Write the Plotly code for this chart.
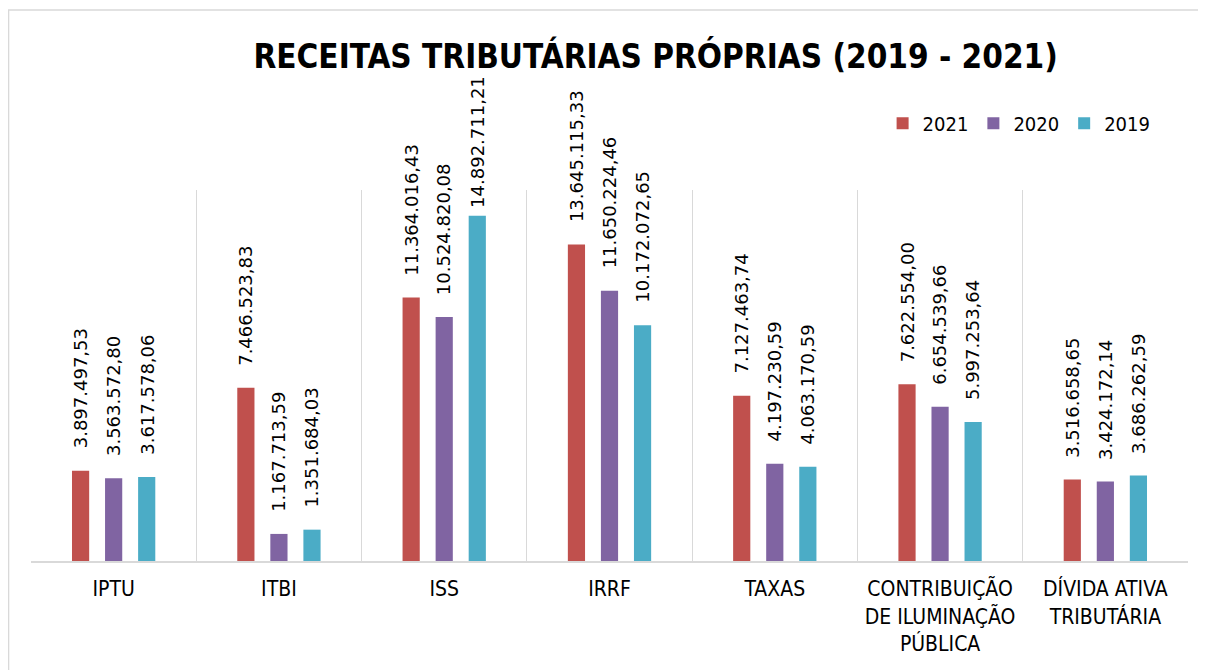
import plotly.graph_objects as go

categories = ["IPTU", "ITBI", "ISS", "IRRF", "TAXAS",
              "CONTRIBUIÇÃO<br>DE ILUMINAÇÃO<br>PÚBLICA", "DÍVIDA ATIVA<br>TRIBUTÁRIA"]
series_names = ["2021", "2020", "2019"]
v2021 = [3897497.53, 7466523.83, 11364016.43, 13645115.33, 7127463.74, 7622554.00, 3516658.65]
v2020 = [3563572.80, 1167713.59, 10524820.08, 11650224.46, 4197230.59, 6654539.66, 3424172.14]
v2019 = [3617578.06, 1351684.03, 14892711.21, 10172072.65, 4063170.59, 5997253.64, 3686262.59]
colors = ["#C0504D", "#8064A2", "#4BACC6"]
series_values = [v2021, v2020, v2019]

NARROW = "Liberation Sans Narrow, DejaVu Sans Condensed, sans-serif"


def fmt_br(v):
    s = f"{v:,.2f}"
    return s.replace(",", "X").replace(".", ",").replace("X", ".")


fig = go.Figure()
for name, vals, col in zip(series_names, series_values, colors):
    fig.add_trace(go.Bar(x=categories, y=vals, name=name, marker_color=col,
                         marker_line_width=0, hoverinfo="skip"))

slot_px = 33
annotations = []
for j, vals in enumerate(series_values):
    for cat, v in zip(categories, vals):
        # labels too tall for the chart area are pulled down towards the bar (as Excel does)
        shift = 20 if v < 14500000 else 6
        annotations.append(dict(
            x=cat, y=v, xref="x", yref="y", text=fmt_br(v), showarrow=False,
            textangle=-90, xanchor="center", yanchor="bottom",
            xshift=(j - 1) * slot_px, yshift=shift,
            font=dict(family="DejaVu Sans", size=18, color="#000000")))

fig.update_layout(
    width=1206, height=670,
    margin=dict(l=23, r=26, t=182, b=117),
    paper_bgcolor="white", plot_bgcolor="white",
    barmode="group", bargap=0.4, bargroupgap=0.48,
    title=dict(text="<b>RECEITAS TRIBUTÁRIAS PRÓPRIAS (2019 - 2021)</b>",
               x=0.537, xanchor="center", y=0.927, yanchor="middle",
               font=dict(family=NARROW, size=33, color="#000000")),
    legend=dict(orientation="h", x=0.972, xanchor="right", y=1.18, yanchor="middle",
                font=dict(family=NARROW, size=20, color="#000000"),
                itemwidth=30, tracegroupgap=0, bgcolor="rgba(0,0,0,0)"),
    xaxis=dict(type="category", tickson="boundaries", showgrid=True,
               gridcolor="#D9D9D9", gridwidth=1, ticks="", showline=True,
               linecolor="#D9D9D9", linewidth=2, ticklabelstandoff=8,
               tickfont=dict(family=NARROW, size=21, color="#000000"),
               mirror=False, zeroline=False),
    yaxis=dict(range=[0, 16000000], visible=False, showgrid=False, zeroline=False),
    annotations=annotations,
    shapes=[dict(type="rect", xref="paper", yref="paper",
                 x0=-0.0194, x1=1.0104, y0=-0.4, y1=1.485,
                 line=dict(color="#D9D9D9", width=1.5), fillcolor="rgba(0,0,0,0)")],
    showlegend=True,
)

fig.write_html("out.html")
